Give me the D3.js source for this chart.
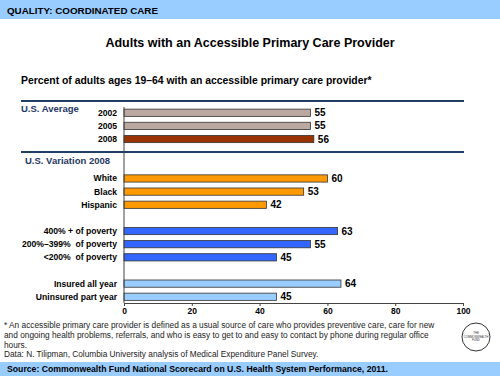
<!DOCTYPE html>
<html>
<head>
<meta charset="utf-8">
<script src="https://cdn.jsdelivr.net/npm/d3@7"></script>
<style>
  body { margin: 0; background: #fff; }
  svg { font-family: "Liberation Sans", Arial, sans-serif; display: block; }
</style>
</head>
<body>
<svg width="500" height="376"></svg>
<script>
// data
const categories = ["2002", "2005", "2008", "White", "Black", "Hispanic",
  "400% + of poverty", "200%\u2013399%  of poverty", "<200%  of poverty",
  "Insured all year", "Uninsured part year"];
const values = [55, 55, 56, 60, 53, 42, 63, 55, 45, 64, 45];
const groups = ["avg", "avg", "avg", "race", "race", "race", "pov", "pov", "pov", "ins", "ins"];
const barColors = ["#BBA9A1", "#BBA9A1", "#993300", "#FF9900", "#FF9900", "#FF9900",
  "#3366FF", "#3366FF", "#3366FF", "#99CCFF", "#99CCFF"];
const xTicks = [0, 20, 40, 60, 80, 100];

const svg = d3.select("svg");
const W = 500, H = 376;

// banners
svg.append("rect").attr("x", 0).attr("y", 0).attr("width", W).attr("height", 19).attr("fill", "#99CCFF");
svg.append("text").attr("x", 7).attr("y", 13.5).attr("font-size", 9.8).attr("font-weight", "bold")
  .text("QUALITY: COORDINATED CARE");

svg.append("rect").attr("x", 0).attr("y", 362).attr("width", W).attr("height", 14).attr("fill", "#99CCFF");
svg.append("text").attr("x", 7).attr("y", 372).attr("font-size", 8.7).attr("font-weight", "bold")
  .text("Source: Commonwealth Fund National Scorecard on U.S. Health System Performance, 2011.");

// titles
svg.append("text").attr("x", 250).attr("y", 47).attr("text-anchor", "middle")
  .attr("font-size", 12.5).attr("font-weight", "bold")
  .text("Adults with an Accessible Primary Care Provider");
svg.append("text").attr("x", 21).attr("y", 84).attr("font-size", 10.4).attr("font-weight", "bold")
  .text("Percent of adults ages 19\u201364 with an accessible primary care provider*");

// build row domain with spacers between groups
const rows = [];
categories.forEach((c, i) => {
  if (i > 0 && groups[i] !== groups[i - 1]) {
    rows.push("gap" + i);
    if (groups[i - 1] === "avg") rows.push("gapb" + i);
  }
  rows.push(c);
});

const x = d3.scaleLinear().domain([0, 100]).range([124, 463]);
const y = d3.scaleBand().domain(rows).range([106.5, 303]).paddingInner(0.45).paddingOuter(0.2);

// section separators
[101, 152].forEach(ly => {
  svg.append("line").attr("x1", 21).attr("x2", 464).attr("y1", ly).attr("y2", ly)
    .attr("stroke", "#1F3F66").attr("stroke-width", 2);
});
svg.append("text").attr("x", 21).attr("y", 112).attr("font-size", 9.5).attr("font-weight", "bold")
  .attr("fill", "#1F3864").text("U.S. Average");
svg.append("text").attr("x", 25).attr("y", 164).attr("font-size", 9.5).attr("font-weight", "bold")
  .attr("fill", "#1F3864").text("U.S. Variation 2008");

// bars
const data = categories.map((c, i) => ({ c, v: values[i], col: barColors[i] }));

svg.selectAll(".bar").data(data).enter().append("rect")
  .attr("class", "bar")
  .attr("x", x(0))
  .attr("y", d => y(d.c))
  .attr("width", d => x(d.v) - x(0))
  .attr("height", y.bandwidth())
  .attr("fill", d => d.col)
  .attr("stroke", "#333")
  .attr("stroke-width", 0.8);

svg.selectAll(".val").data(data).enter().append("text")
  .attr("x", d => x(d.v) + 4)
  .attr("y", d => y(d.c) + y.bandwidth() / 2 + 3.5)
  .attr("font-size", 10).attr("font-weight", "bold")
  .text(d => d.v);

svg.selectAll(".lab").data(data).enter().append("text")
  .attr("x", 117)
  .attr("y", d => y(d.c) + y.bandwidth() / 2 + 3)
  .attr("text-anchor", "end")
  .attr("font-size", 8.6).attr("font-weight", "bold")
  .attr("xml:space", "preserve")
  .style("white-space", "pre")
  .text(d => d.c);

// axes
const xAxis = svg.append("g").attr("transform", "translate(0,303)")
  .call(d3.axisBottom(x).tickValues(xTicks).tickSize(3).tickSizeOuter(0));
xAxis.select(".domain").attr("stroke", "#444");
xAxis.selectAll(".tick line").attr("stroke", "#444");
xAxis.selectAll("text").attr("font-size", 8.5).attr("font-weight", "bold")
  .attr("font-family", "Liberation Sans, Arial, sans-serif").attr("fill", "#000").attr("dy", "0.6em");

svg.append("line").attr("x1", x(0)).attr("x2", x(0)).attr("y1", 107).attr("y2", 303)
  .attr("stroke", "#444").attr("stroke-width", 1);

// footnote
const notes = [
  "* An accessible primary care provider is defined as a usual source of care who provides preventive care, care for new",
  "and ongoing health problems, referrals, and who is easy to get to and easy to contact by phone during regular office",
  "hours.",
  "Data: N. Tilipman, Columbia University analysis of Medical Expenditure Panel Survey."
];
svg.selectAll(".note").data(notes).enter().append("text")
  .attr("x", 4).attr("y", (d, i) => 328 + i * 9.8)
  .attr("font-size", 8.3).attr("fill", "#222")
  .text(d => d);

// logo
svg.append("circle").attr("cx", 476).attr("cy", 337).attr("r", 14)
  .attr("fill", "#fff").attr("stroke", "#333").attr("stroke-width", 1);
["THE", "COMMONWEALTH", "FUND"].forEach((t, i) => {
  svg.append("text").attr("x", 476).attr("y", 334 + i * 3.5).attr("text-anchor", "middle")
    .attr("font-size", 2.8).attr("fill", "#333").text(t);
});
</script>
</body>
</html>
